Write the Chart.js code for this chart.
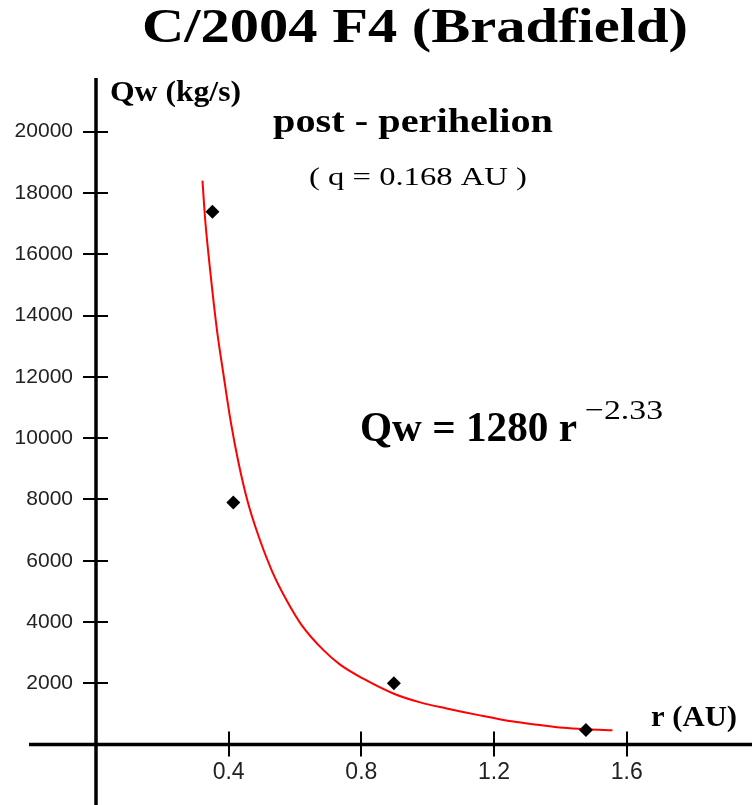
<!DOCTYPE html>
<html>
<head>
<meta charset="utf-8">
<script src="https://cdn.jsdelivr.net/npm/chart.js@4.4.1/dist/chart.umd.min.js"></script>
<style>
  html, body { margin: 0; padding: 0; background: #fff; }
  #wrap { width: 752px; height: 805px; }
</style>
</head>
<body>
<div id="wrap"><canvas id="c" width="752" height="805"></canvas></div>
<script>
// ---- data ----
const yTickValues = [2000, 4000, 6000, 8000, 10000, 12000, 14000, 16000, 18000, 20000];
const xTickValues = [0.4, 0.8, 1.2, 1.6];

const obsR = [0.351, 0.414, 0.898, 1.477];
const obsQ = [17390, 7900, 2000, 476];

const fitR = [0.321, 0.329, 0.344, 0.365, 0.384, 0.406, 0.430, 0.456, 0.485, 0.530, 0.575, 0.620,
              0.685, 0.736, 0.806, 0.898, 0.980, 1.057, 1.150, 1.258, 1.330, 1.409, 1.480, 1.557];
const fitQ = [18400, 17150, 15490, 13500, 12100, 10550, 9180, 7980, 6960, 5680, 4700, 3900,
              3090, 2610, 2150, 1660, 1370, 1180, 970, 750, 650, 550, 500, 465];

const titleText = 'C/2004 F4 (Bradfield)';
const yAxisTitle = 'Qw (kg/s)';
const xAxisTitle = 'r (AU)';
const subTitle1 = 'post - perihelion';
const subTitle2 = '( q = 0.168 AU )';
const equationMain = 'Qw = 1280 r';
const equationExp = '\u22122.33';

// ---- drawing helpers ----
function fitText(ctx, txt, x, base, font, w) {
  ctx.save();
  ctx.font = font;
  ctx.textAlign = 'left';
  ctx.textBaseline = 'alphabetic';
  const m = ctx.measureText(txt).width;
  ctx.translate(x, base);
  ctx.scale(w / m, 1);
  ctx.fillStyle = '#000';
  ctx.fillText(txt, 0, 0);
  ctx.restore();
}

const axesPlugin = {
  id: 'axesPlugin',
  beforeDatasetsDraw(chart) {
    const ctx = chart.ctx;
    const xs = chart.scales.x, ys = chart.scales.y;
    const x0 = xs.getPixelForValue(0);
    const y0 = ys.getPixelForValue(0);
    ctx.save();
    ctx.strokeStyle = '#000';
    ctx.lineWidth = 3.5;
    ctx.beginPath();
    ctx.moveTo(xs.getPixelForValue(-0.202), y0);
    ctx.lineTo(chart.width, y0);
    ctx.moveTo(x0, ys.getPixelForValue(21750));
    ctx.lineTo(x0, chart.height);
    ctx.stroke();
    ctx.lineWidth = 2;
    ctx.beginPath();
    yTickValues.forEach(v => {
      const p = Math.round(ys.getPixelForValue(v));
      ctx.moveTo(x0 - 13, p);
      ctx.lineTo(x0 + 12, p);
    });
    xTickValues.forEach(v => {
      const p = Math.round(xs.getPixelForValue(v));
      ctx.moveTo(p, y0 - 13);
      ctx.lineTo(p, y0 + 12);
    });
    ctx.stroke();
    ctx.restore();
  },
  afterDraw(chart) {
    const ctx = chart.ctx;
    const serif = '"Liberation Serif", "Times New Roman", serif';
    fitText(ctx, titleText, 142, 42, 'bold 48px ' + serif, 546);
    fitText(ctx, yAxisTitle, 110, 101, 'bold 29px ' + serif, 131);
    fitText(ctx, subTitle1, 273, 132, 'bold 33px ' + serif, 280);
    fitText(ctx, subTitle2, 309, 185, '25px ' + serif, 218);
    fitText(ctx, equationMain, 360, 441, 'bold 42px ' + serif, 217);
    fitText(ctx, equationExp, 585, 419, '28px ' + serif, 78);
    fitText(ctx, xAxisTitle, 651, 726, 'bold 29px ' + serif, 86);
  }
};

const obsPoints = obsR.map((r, i) => ({ x: r, y: obsQ[i] }));
const fitPoints = fitR.map((r, i) => ({ x: r, y: fitQ[i] }));

new Chart(document.getElementById('c'), {
  type: 'scatter',
  data: {
    datasets: [
      {
        label: 'observed',
        data: obsPoints,
        pointStyle: 'rectRot',
        pointRadius: 7,
        pointHoverRadius: 7,
        backgroundColor: '#000',
        borderColor: '#000',
        borderWidth: 0,
        showLine: false,
        clip: false
      },
      {
        label: 'fit',
        data: fitPoints,
        showLine: true,
        borderColor: '#ff0000',
        borderWidth: 2,
        pointRadius: 0,
        pointHoverRadius: 0,
        cubicInterpolationMode: 'monotone',
        fill: false
      }
    ]
  },
  options: {
    responsive: false,
    devicePixelRatio: 1,
    animation: false,
    events: [],
    layout: { padding: 0, autoPadding: false },
    plugins: { legend: { display: false }, tooltip: { enabled: false }, title: { display: false } },
    scales: {
      x: {
        type: 'linear',
        position: { y: 0 },
        min: 0,
        max: 1.9777,
        grid: { display: false, drawTicks: false },
        border: { display: false },
        afterBuildTicks: s => { s.ticks = xTickValues.map(v => ({ value: v })); },
        afterFit: s => { s.paddingLeft = 0; s.paddingRight = 0; s.paddingTop = 0; s.paddingBottom = 0; },
        ticks: {
          padding: 14,
          color: '#222',
          font: { family: '"Liberation Sans", Arial, sans-serif', size: 23 },
          callback: v => Number(v).toFixed(1),
          maxRotation: 0,
          autoSkip: false
        }
      },
      y: {
        type: 'linear',
        position: 'left',
        min: -1971,
        max: 24296,
        grid: { display: true, drawOnChartArea: false, drawTicks: false, color: 'rgba(0,0,0,0)' },
        border: { display: false },
        afterBuildTicks: s => { s.ticks = yTickValues.map(v => ({ value: v })); },
        afterFit: s => { s.width = 96; s.paddingLeft = 0; s.paddingRight = 0; s.paddingTop = 0; s.paddingBottom = 0; },
        ticks: {
          padding: 23,
          color: '#222',
          font: { family: '"Liberation Sans", Arial, sans-serif', size: 21 },
          callback: v => String(v),
          autoSkip: false
        }
      }
    }
  },
  plugins: [axesPlugin]
});
</script>
</body>
</html>
